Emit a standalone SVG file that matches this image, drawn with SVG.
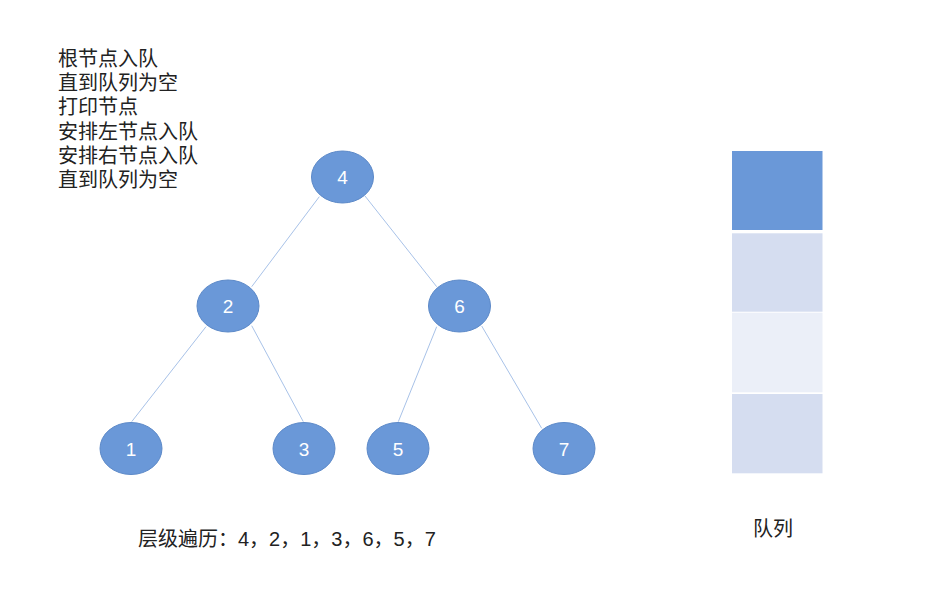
<svg xmlns="http://www.w3.org/2000/svg" width="936" height="590" viewBox="0 0 936 590">
<style>
.t{font-family:"Liberation Sans","Noto Sans CJK SC",sans-serif;font-size:20px;fill:#222}
.n ellipse{fill:#6a98d8;stroke:#5c89c8;stroke-width:1}
.n text{font-family:"Liberation Sans","Noto Sans CJK SC",sans-serif;font-size:19px;fill:#fff;text-anchor:middle}
.e line{stroke:#a8c2e8;stroke-width:1}
</style>
<rect width="936" height="590" fill="#fff"/>
<g id="steps" class="t">
<text x="58" y="66">根节点入队</text>
<text x="58" y="90.2">直到队列为空</text>
<text x="58" y="114.4">打印节点</text>
<text x="58" y="138.6">安排左节点入队</text>
<text x="58" y="162.8">安排右节点入队</text>
<text x="58" y="187">直到队列为空</text>
</g>
<g id="connectors" class="e">
<line x1="319.3" y1="196.7" x2="251.7" y2="286.7"/>
<line x1="365" y1="196" x2="436.7" y2="286.7"/>
<line x1="206" y1="326.7" x2="131.7" y2="421.7"/>
<line x1="251.7" y1="325.7" x2="303.3" y2="421.7"/>
<line x1="436.7" y1="326.7" x2="398.3" y2="421.7"/>
<line x1="481.7" y1="326" x2="541.7" y2="428.3"/>
</g>
<g id="node4" class="n"><ellipse cx="342.5" cy="177" rx="31" ry="26"/><text x="342.5" y="184">4</text></g>
<g id="node2" class="n"><ellipse cx="228" cy="306" rx="31" ry="26"/><text x="228" y="313">2</text></g>
<g id="node6" class="n"><ellipse cx="459.5" cy="306" rx="31" ry="26"/><text x="459.5" y="313">6</text></g>
<g id="node1" class="n"><ellipse cx="131" cy="448.5" rx="31" ry="26"/><text x="131" y="455.5">1</text></g>
<g id="node3" class="n"><ellipse cx="304" cy="448.5" rx="31" ry="26"/><text x="304" y="455.5">3</text></g>
<g id="node5" class="n"><ellipse cx="398" cy="448.5" rx="31" ry="26"/><text x="398" y="455.5">5</text></g>
<g id="node7" class="n"><ellipse cx="564" cy="448.5" rx="31" ry="26"/><text x="564" y="455.5">7</text></g>
<g id="queue">
<rect x="732" y="151" width="90.5" height="79" fill="#6a98d8"/>
<rect x="732" y="233.3" width="90.5" height="78.4" fill="#d5ddf0"/>
<rect x="732" y="312.7" width="90.5" height="79.6" fill="#ebeff8"/>
<rect x="732" y="394" width="90.5" height="79.3" fill="#d5ddf0"/>
<text class="t" x="773" y="536" text-anchor="middle">队列</text>
</g>
<g id="result"><text class="t" x="138" y="546">层级遍历：4，2，1，3，6，5，7</text></g>
</svg>
